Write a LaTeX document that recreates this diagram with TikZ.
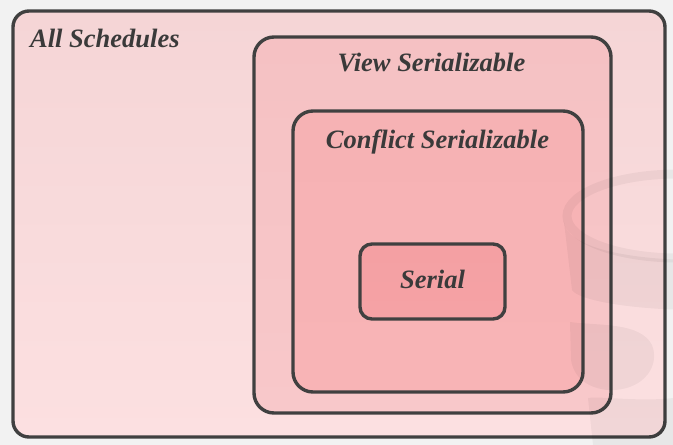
\documentclass[tikz,border=0pt]{standalone}
\usepackage{fontspec}
\setmainfont{Liberation Serif}
\begin{document}
\begin{tikzpicture}[x=1pt,y=-1pt,
  setbox/.style={draw=edgegray, line width=3.4pt, rounded corners=#1, inner sep=0pt, shading=axis, shading angle=0},
  settext/.style={text=labelgray, font=\fontsize{26.5}{30}\selectfont\bfseries\itshape, anchor=base, inner sep=0pt},
  wmark/.style={black, opacity=0.045}]
\definecolor{edgegray}{HTML}{404040}
\definecolor{labelgray}{HTML}{3A3A3A}
\definecolor{pagebg}{HTML}{F2F2F2}
% page
\fill[pagebg] (0,0) rectangle (673,445);
\useasboundingbox (0,0) rectangle (673,445);
% nested sets
\node (all) [setbox=16pt, top color={rgb,255:red,245;green,213;blue,214}, bottom color={rgb,255:red,252;green,224;blue,225},
  minimum width=652pt, minimum height=426pt] at (339,224) {};
\node (view) [setbox=20pt, top color={rgb,255:red,245;green,193;blue,195}, bottom color={rgb,255:red,248;green,200;blue,202},
  minimum width=357pt, minimum height=376pt] at (432.5,225) {};
\node (conflict) [setbox=20pt, top color={rgb,255:red,246;green,178;blue,180}, bottom color={rgb,255:red,248;green,180;blue,182},
  minimum width=290pt, minimum height=281pt] at (438,251.5) {};
\node (serial) [setbox=12pt, top color={rgb,255:red,244;green,160;blue,163}, bottom color={rgb,255:red,245;green,162;blue,165},
  minimum width=145pt, minimum height=75pt] at (432.5,281.5) {};
% faint database logo in the corner
\begin{scope}
  \clip (0,0) rectangle (673,445);
  \draw[wmark, line width=9pt] (678,216) ellipse [x radius=111, y radius=42];
  \fill[wmark] (564,222) .. controls (566,245) and (620,260) .. (700,260)
     -- (700,310) .. controls (630,310) and (578,300) .. (572,290) -- cycle;
  \fill[wmark] (570,322) .. controls (600,326) and (640,322) .. (652,345)
     .. controls (660,365) and (645,388) .. (615,390)
     .. controls (600,391) and (575,385) .. (571,360) -- cycle;
  \fill[wmark] (588,398) .. controls (600,396) and (640,402) .. (673,398)
     -- (673,445) -- (593,445) -- cycle;
\end{scope}
% labels
\node (allL) [settext, anchor=base west] at (30,47) {All Schedules};
\node (viewL) [settext] at (431.5,71) {View Serializable};
\node (conflictL) [settext] at (437.5,148) {Conflict Serializable};
\node (serialL) [settext] at (432.5,288) {Serial};
\end{tikzpicture}
\end{document}
